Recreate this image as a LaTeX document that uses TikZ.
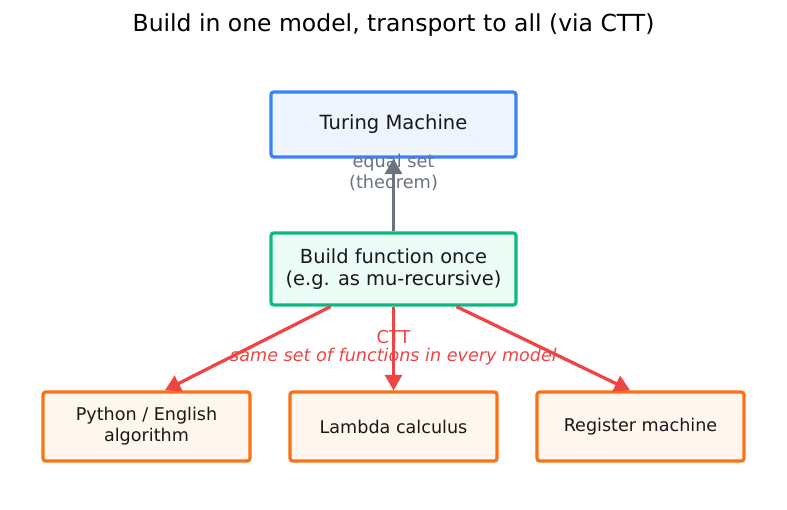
\documentclass[tikz,border=0pt]{standalone}
\usepackage{fontspec}
\setmainfont{DejaVu Sans}
\usetikzlibrary{positioning,arrows.meta}

\definecolor{tmblue}{HTML}{3B82F6}
\definecolor{tmfill}{HTML}{EEF5FF}
\definecolor{bfgreen}{HTML}{10B981}
\definecolor{bffill}{HTML}{ECFDF5}
\definecolor{mdorange}{HTML}{F97316}
\definecolor{mdfill}{HTML}{FFF7ED}
\definecolor{cttred}{HTML}{EF4444}
\definecolor{eqgray}{HTML}{6B7280}

\tikzset{
  box/.style={draw,rounded corners=2pt,line width=2.3pt,align=center,minimum width=6.125cm,minimum height=1.625cm,text=black!90,inner sep=0pt},
  modelbox/.style={box,draw=mdorange,fill=mdfill,minimum width=5.175cm,minimum height=1.725cm,font=\fontsize{12.5}{15}\selectfont},
  redarrow/.style={-{Triangle[length=11pt,width=12pt]},line width=2.3pt,draw=cttred}
}

\begin{document}
\begin{tikzpicture}[x=0.025cm,y=-0.025cm]
  \useasboundingbox[fill=white] (0,0) rectangle (787,510);
  % title
  \node (title) at (393.5,25.5) {\fontsize{16.7}{19}\selectfont Build in one model, transport to all (via CTT)};
  % nodes
  \node[box,draw=tmblue,fill=tmfill,font=\fontsize{13.9}{16}\selectfont] at (393.5,124.5) (tm) {Turing Machine};
  \node[box,draw=bfgreen,fill=bffill,minimum height=1.8cm,font=\fontsize{13.8}{15.6}\selectfont] at (393.5,269) (build) {Build function once\\(e.g. as mu-recursive)};
  \node[modelbox] at (146.5,426.5) (py) {Python / English\\algorithm};
  \node[modelbox] at (393.5,426.5) (lam) {Lambda calculus};
  \node[modelbox] at (640.5,426.5) (reg) {Register machine};
  % arrows
  \draw[-{Triangle[length=11pt,width=12pt]},line width=2.3pt,draw=eqgray] (build.north) -- (tm.south);
  \node[text=eqgray,align=center,font=\fontsize{12.6}{15}\selectfont] at (393.5,172) (eq) {equal set\\(theorem)};
  \draw[redarrow] ([xshift=-1.575cm]build.south) -- ([xshift=0.46cm]py.north);
  \draw[redarrow] (build.south) -- (lam.north);
  \draw[redarrow] ([xshift=1.575cm]build.south) -- ([xshift=-0.26cm]reg.north);
  \node[text=cttred,font=\fontsize{12.6}{15}\selectfont] at (393.5,337) (ctt) {CTT};
  \node[text=cttred,font=\fontsize{12.5}{15}\itshape] at (393.5,357) (same) {same set of functions in every model};
\end{tikzpicture}
\end{document}
